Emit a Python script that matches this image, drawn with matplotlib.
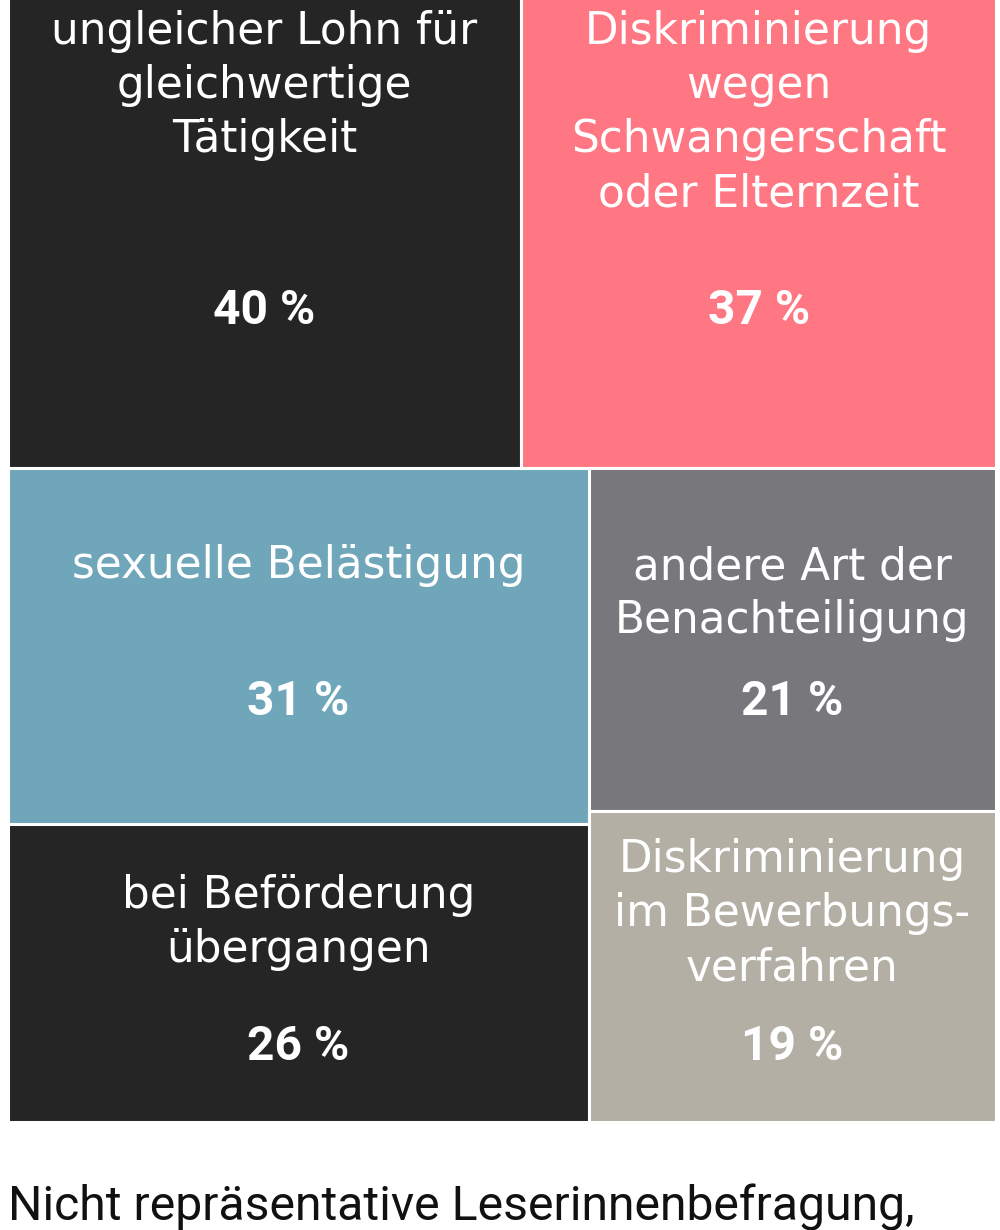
import matplotlib
matplotlib.use("Agg")
import matplotlib.pyplot as plt
from matplotlib.patches import Rectangle

# ── Data ───────────────────────────────────────────────
labels = [
    "ungleicher Lohn für\ngleichwertige\nTätigkeit",
    "Diskriminierung\nwegen\nSchwangerschaft\noder Elternzeit",
    "sexuelle Belästigung",
    "bei Beförderung\nübergangen",
    "andere Art der\nBenachteiligung",
    "Diskriminierung\nim Bewerbungs-\nverfahren",
]
values = [40, 37, 31, 26, 21, 19]
pct_labels = ["40 %", "37 %", "31 %", "26 %", "21 %", "19 %"]
colors = ["#252525", "#ff7783", "#6fa6b9", "#252525", "#78777c", "#b3afa5"]

# treemap structure: a top strip, then columns below it
top_row = [0, 1]
columns = [[2, 3], [4, 5]]

footnote = "Nicht repräsentative Leserinnenbefragung,"

# ── Layout (pixel space, top of the map is cropped off) ─
X0, X1 = 8, 996
Y0, Y1 = -51, 1122

total = sum(values)
rects = {}
top_sum = sum(values[i] for i in top_row)
strip_h = (Y1 - Y0) * top_sum / total
x = X0
for i in top_row:
    w = (X1 - X0) * values[i] / top_sum
    rects[i] = (x, Y0, w, strip_h)
    x += w
rest = total - top_sum
x = X0
for col in columns:
    col_sum = sum(values[i] for i in col)
    w = (X1 - X0) * col_sum / rest
    y = Y0 + strip_h
    for i in col:
        h = (Y1 - Y0 - strip_h) * values[i] / col_sum
        rects[i] = (x, y, w, h)
        y += h
    x += w

# text placement as fraction of box height (label centre, percent centre)
label_pos = [0.263, 0.315, 0.275, 0.331, 0.366, 0.329]
pct_pos = [0.698, 0.698, 0.657, 0.748, 0.682, 0.758]

fig = plt.figure(figsize=(10, 12.3), dpi=100)
ax = fig.add_axes([0, 0, 1, 1])
ax.set_xlim(0, 1000)
ax.set_ylim(1230, 0)
ax.axis("off")

for i, (rx, ry, rw, rh) in rects.items():
    ax.add_patch(Rectangle((rx, ry), rw, rh, facecolor=colors[i],
                           edgecolor="white", linewidth=2.2))
    cx = rx + rw / 2
    ax.text(cx, ry + rh * label_pos[i], labels[i], ha="center", va="center",
            color="white", fontsize=31.5, family="DejaVu Sans",
            linespacing=1.33)
    ax.text(cx, ry + rh * pct_pos[i], pct_labels[i], ha="center", va="center",
            color="white", fontsize=34.5, family="Roboto", fontweight="bold")

ax.text(8, 1207, footnote, ha="left", va="center", color="#111111",
        fontsize=34.7, family="Roboto")

fig.savefig("out.png", dpi=100)
